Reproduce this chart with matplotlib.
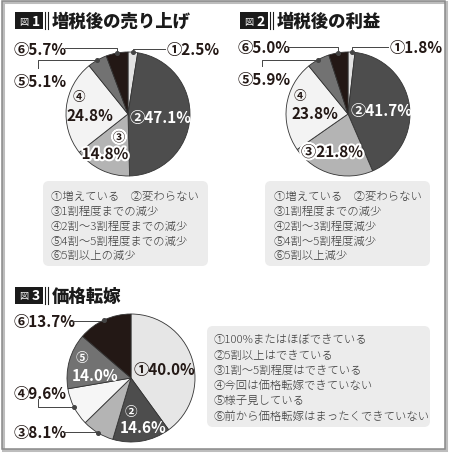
import numpy as np
import matplotlib.pyplot as plt
import matplotlib.patheffects as pe
from matplotlib.patches import Rectangle, FancyBboxPatch

plt.rcParams['font.family'] = ['Noto Sans CJK JP', 'DejaVu Sans']

# data
marks = ['①', '②', '③', '④', '⑤', '⑥']
sales_values = [2.5, 47.1, 14.8, 24.8, 5.1, 5.7]
profit_values = [1.8, 41.7, 21.8, 23.8, 5.9, 5.0]
pass_values = [40.0, 14.6, 8.1, 9.6, 14.0, 13.7]

titles = ['増税後の売り上げ', '増税後の利益', '価格転嫁']

sales_legend = ['①増えている　②変わらない', '③1割程度までの減少', '④2割〜3割程度までの減少',
                '⑤4割〜5割程度までの減少', '⑥5割以上の減少']
profit_legend = ['①増えている　②変わらない', '③1割程度までの減少', '④2割〜3割程度減少',
                 '⑤4割〜5割程度減少', '⑥5割以上減少']
pass_legend = ['①100%またはほぼできている', '②5割以上はできている', '③1割〜5割程度はできている',
               '④今回は価格転嫁できていない', '⑤様子見している', '⑥前から価格転嫁はまったくできていない']

top_colors = ['#e2e2e2', '#4d4d4d', '#b4b4b4', '#f3f3f3', '#727272', '#231815']
pass_colors = ['#e6e6e6', '#4d4d4d', '#b4b4b4', '#f6f6f6', '#727272', '#231815']

W, H = 450, 456
fig = plt.figure(figsize=(W / 100, H / 100), dpi=100)
ax = fig.add_axes([0, 0, 1, 1])

DARK = '#231815'
halo = [pe.withStroke(linewidth=3, foreground='white')]


def fmt(v):
    return f'{v:.1f}%'


def draw_pie(values, colors, cx, cy, r):
    # y axis is flipped later, so start at 270 and run counterclockwise in data
    ax.pie(values, colors=colors, center=(cx, cy), radius=r, startangle=270,
           counterclock=True, frame=True,
           wedgeprops=dict(edgecolor='#333333', linewidth=0.6))


def edge_point(values, i, cx, cy, r):
    cum = sum(values[:i]) + values[i] / 2
    a = 2 * np.pi * cum / sum(values)
    return cx + r * np.sin(a), cy - r * np.cos(a)


def leader(points, end):
    xs = [p[0] for p in points] + [end[0]]
    ys = [p[1] for p in points] + [end[1]]
    ax.plot(xs, ys, color='#444444', lw=0.7, zorder=3)
    ax.plot(end[0], end[1], 'o', ms=2.6, color='#444444', zorder=4)


def heading(x, y, num, title):
    ax.add_patch(Rectangle((x, y - 8.5), 28, 17, fc='#1a1a1a', ec='none', zorder=3))
    ax.text(x + 9, y + 0.5, '図', color='white', fontsize=6.5, ha='center', va='center', zorder=4)
    ax.text(x + 20.5, y, str(num), color='white', fontsize=10, fontweight='bold',
            ha='center', va='center', zorder=4)
    for bx in (x + 30, x + 32.5):
        ax.plot([bx, bx], [y - 8.5, y + 8.5], color='#1a1a1a', lw=0.8)
    ax.text(x + 37, y, title, fontsize=12.5, fontweight='black', color='#1a1a1a',
            ha='left', va='center')


def legend_box(x0, y0, w, h, lines, tx, ty, step):
    ax.add_patch(FancyBboxPatch((x0, y0), w, h, boxstyle='round,pad=0,rounding_size=6',
                                fc='#ececec', ec='none', zorder=1))
    for k, line in enumerate(lines):
        ax.text(tx, ty + k * step, line, fontsize=8.2, fontweight='light', color='#3a3a3a',
                ha='left', va='center', zorder=2)


# frame with soft shadow
ax.add_patch(Rectangle((3, 3), 443.5, 448.5, fill=False, ec='#bdbdbd', lw=2.2))
ax.add_patch(Rectangle((2, 2), 443.5, 448.5, fill=False, ec='#8a8a8a', lw=1.1))

# ---- chart 1 ----
c1 = (128, 115, 62)
heading(15, 21.5, 1, titles[0])
draw_pie(sales_values, top_colors, *c1)
ax.text(130, 118, marks[1] + fmt(sales_values[1]), color='white', fontsize=11,
        fontweight='bold', ha='left', va='center')
ax.text(79, 98, marks[3], color=DARK, fontsize=9, fontweight='bold', ha='center', va='center')
ax.text(90, 116, fmt(sales_values[3]), color=DARK, fontsize=11, fontweight='bold',
        ha='center', va='center')
ax.text(119, 139, marks[2], color=DARK, fontsize=9, fontweight='bold', ha='center',
        va='center', path_effects=halo)
ax.text(105, 155, fmt(sales_values[2]), color=DARK, fontsize=11, fontweight='bold',
        ha='center', va='center', path_effects=halo)
ax.text(167, 50, marks[0] + fmt(sales_values[0]), color=DARK, fontsize=11,
        fontweight='bold', ha='left', va='center')
p = edge_point(sales_values, 0, *c1)
leader([(165, 50), (p[0], 50)], p)
ax.text(14, 50, marks[5] + fmt(sales_values[5]), color=DARK, fontsize=11,
        fontweight='bold', ha='left', va='center')
p = edge_point(sales_values, 5, *c1)
leader([(65, 49), (p[0], 49)], p)
ax.text(14, 82, marks[4] + fmt(sales_values[4]), color=DARK, fontsize=11,
        fontweight='bold', ha='left', va='center')
p = edge_point(sales_values, 4, *c1)
leader([(38, 69), (38, p[1])], p)
legend_box(43, 182, 165, 85, sales_legend, 51, 197, 14.8)

# ---- chart 2 ----
c2 = (348, 115, 62)
heading(240, 21.5, 2, titles[1])
draw_pie(profit_values, top_colors, *c2)
ax.text(351, 111, marks[1] + fmt(profit_values[1]), color='white', fontsize=11,
        fontweight='bold', ha='left', va='center')
ax.text(300, 97, marks[3], color=DARK, fontsize=9, fontweight='bold', ha='center', va='center')
ax.text(315, 114, fmt(profit_values[3]), color=DARK, fontsize=11, fontweight='bold',
        ha='center', va='center')
ax.text(332, 153, marks[2] + fmt(profit_values[2]), color=DARK, fontsize=11,
        fontweight='bold', ha='center', va='center', path_effects=halo)
ax.text(390, 48, marks[0] + fmt(profit_values[0]), color=DARK, fontsize=11,
        fontweight='bold', ha='left', va='center')
p = edge_point(profit_values, 0, *c2)
leader([(388, 48), (p[0], 48)], p)
ax.text(238, 48, marks[5] + fmt(profit_values[5]), color=DARK, fontsize=11,
        fontweight='bold', ha='left', va='center')
p = edge_point(profit_values, 5, *c2)
leader([(289, 48), (p[0], 48)], p)
ax.text(238, 80, marks[4] + fmt(profit_values[4]), color=DARK, fontsize=11,
        fontweight='bold', ha='left', va='center')
p = edge_point(profit_values, 4, *c2)
leader([(262, 67), (262, p[1])], p)
legend_box(265, 182, 165, 85, profit_legend, 274, 197, 14.8)

# ---- chart 3 ----
c3 = (131, 379, 64)
heading(15, 296.5, 3, titles[2])
draw_pie(pass_values, pass_colors, *c3)
ax.text(134, 370, marks[0] + fmt(pass_values[0]), color=DARK, fontsize=11,
        fontweight='bold', ha='left', va='center')
ax.text(82, 359, marks[4], color='white', fontsize=9, fontweight='bold', ha='center', va='center')
ax.text(95, 376, fmt(pass_values[4]), color='white', fontsize=11, fontweight='bold',
        ha='center', va='center')
ax.text(131, 413, marks[1], color='white', fontsize=9, fontweight='bold', ha='center', va='center')
ax.text(143, 428, fmt(pass_values[1]), color='white', fontsize=11, fontweight='bold',
        ha='center', va='center')
ax.text(14, 322, marks[5] + fmt(pass_values[5]), color=DARK, fontsize=11,
        fontweight='bold', ha='left', va='center')
p = edge_point(pass_values, 5, *c3)
leader([(71, 322), (p[0], 322)], p)
ax.text(14, 394, marks[3] + fmt(pass_values[3]), color=DARK, fontsize=11,
        fontweight='bold', ha='left', va='center')
p = edge_point(pass_values, 3, *c3)
leader([(38, 400), (38, p[1])], p)
ax.text(14, 433, marks[2] + fmt(pass_values[2]), color=DARK, fontsize=11,
        fontweight='bold', ha='left', va='center')
p = edge_point(pass_values, 2, *c3)
leader([(63, 433), (p[0], 433)], p)
legend_box(207, 327, 223, 101, pass_legend, 214, 340.5, 15.2)

ax.set_xlim(0, W)
ax.set_ylim(H, 0)
ax.set_aspect('equal')
ax.axis('off')
fig.savefig('out.png', dpi=100, facecolor='white')
